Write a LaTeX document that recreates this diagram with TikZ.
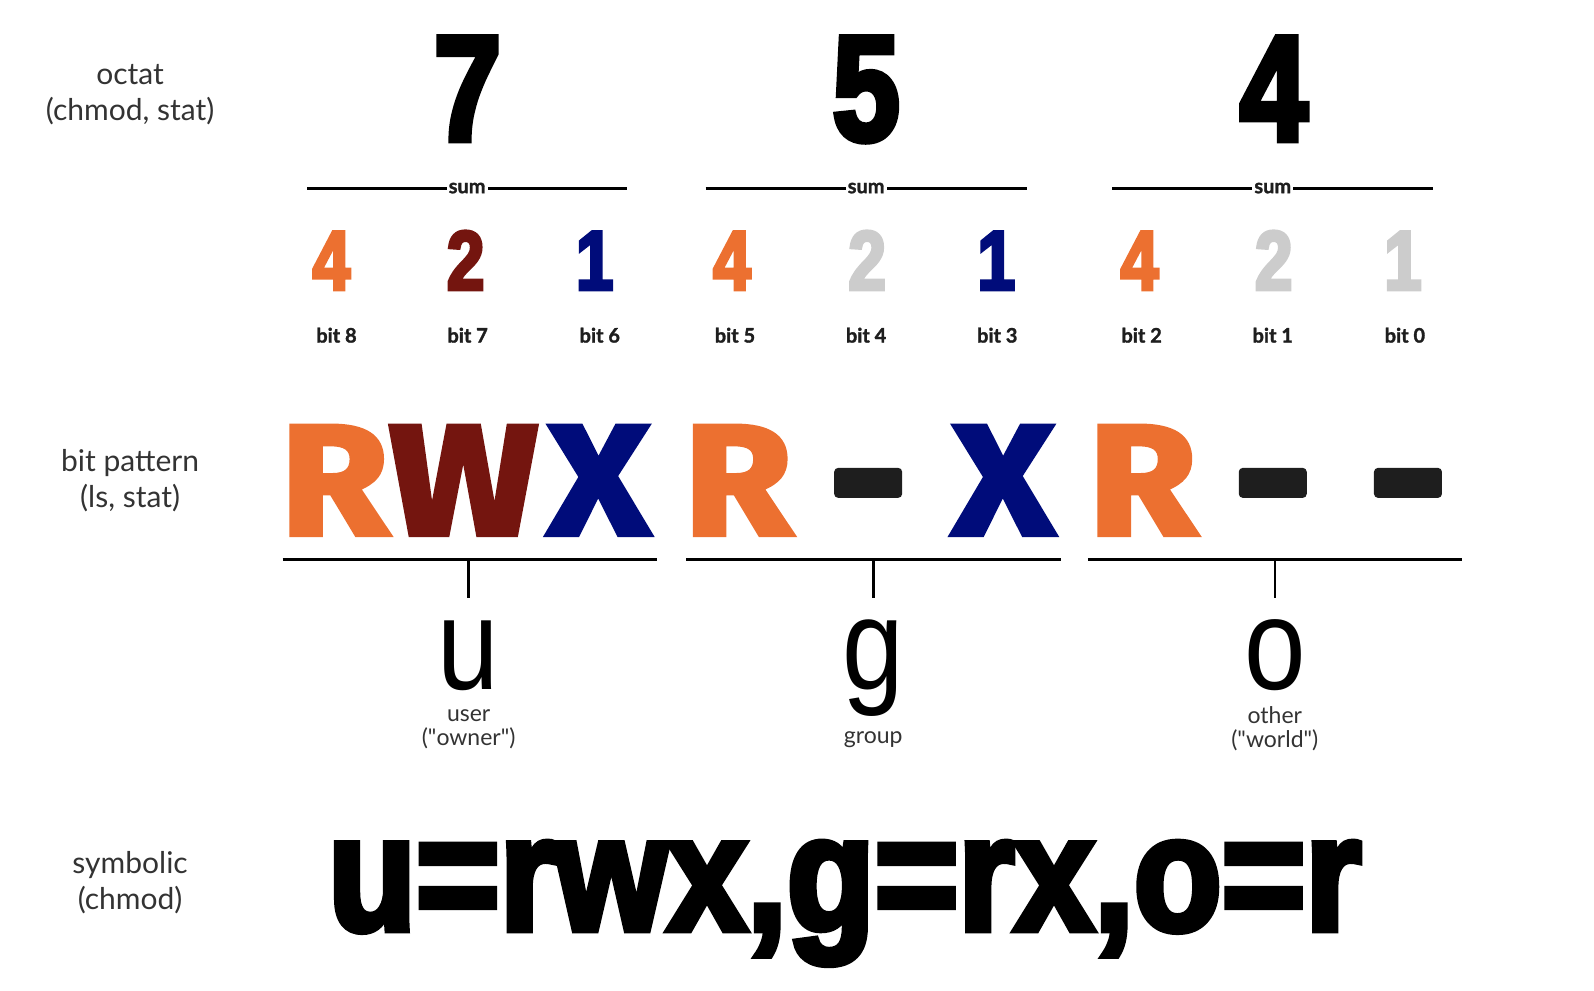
\documentclass[tikz,border=0pt]{standalone}
\usepackage{fontspec}
\setmainfont{Lato}
\newfontfamily\octalfont[FakeStretch=0.8,FakeBold=4]{Liberation Sans Bold}
\newfontfamily\flagfont[FakeStretch=1.12,FakeBold=3]{Fira Sans Bold}
\newfontfamily\whofont[FakeStretch=0.85]{Liberation Sans}
\newfontfamily\symfont[FakeStretch=0.875,FakeBold=4]{Liberation Sans Bold}
\newfontfamily\bitfont[FakeBold=1.5]{Lato Bold}
\definecolor{permorange}{HTML}{EC7030}
\definecolor{permred}{HTML}{74150F}
\definecolor{permblue}{HTML}{000C7A}
\definecolor{permgray}{HTML}{CCCCCC}
\definecolor{permdash}{HTML}{1E1E1E}
\definecolor{labelgray}{HTML}{333333}
\begin{document}
\begin{tikzpicture}[
  x=1.0166pt, y=-1.0166pt,
  rowlabel/.style={align=center, text=labelgray, font=\fontsize{30}{36}\selectfont},
  octal/.style={anchor=base, inner sep=0pt, font=\octalfont\fontsize{150}{150}\selectfont},
  weight/.style={anchor=base, inner sep=0pt, font=\octalfont\fontsize{84}{84}\selectfont},
  bitname/.style={anchor=base, inner sep=0pt, text=permdash, font=\bitfont\fontsize{20}{20}\selectfont},
  flag/.style={anchor=base, inner sep=0pt, font=\flagfont\fontsize{157}{157}\selectfont},
  nobit/.style={fill=permdash, rounded corners=4pt, minimum width=68pt, minimum height=30pt, inner sep=0pt},
  who/.style={anchor=base, inner sep=0pt, text depth=0pt, font=\whofont\fontsize{130}{130}\selectfont},
  whoname/.style={align=center, text=labelgray, inner sep=0pt, font=\fontsize{23}{24}\selectfont},
  rule/.style={line width=3pt},
  tick/.style={line width=2.5pt}
]
\useasboundingbox (0,0) rectangle (1568,974);

\node[rowlabel] (octlabel) at (128,93) {octat\\(chmod, stat)};
\node[rowlabel] (bitlabel) at (128,473) {bit pattern\\(ls, stat)};
\node[rowlabel] (symlabel) at (128,868) {symbolic\\(chmod)};

\foreach \d/\x/\n in {7/460/u, 5/852/g, 4/1253/o}
  \node[octal] (oct\n) at (\x,138) {\d};

\foreach \a/\b/\n in {302/617/u, 694/1010/g, 1094/1410/o} {
  \coordinate (suml\n) at (\a,185);
  \coordinate (sumr\n) at (\b,185);
  \draw[rule] (suml\n) -- node[fill=white, inner xsep=2pt, inner ysep=1pt, text=permdash, font=\bitfont\fontsize{20}{20}\selectfont] {sum} (sumr\n);
}

\foreach \w/\c/\x/\bx/\i in {4/permorange/326/331/8, 2/permred/458/460/7, 1/permblue/585/590/6,
                             4/permorange/720/723/5, 2/permgray/853/852/4, 1/permblue/980/981/3,
                             4/permorange/1121/1123/2, 2/permgray/1253/1252/1, 1/permgray/1380/1382/0} {
  \node[weight, text=\c] (w\i) at (\x,285) {\w};
  \node[bitname] (b\i) at (\bx,337) {bit \i};
}

\foreach \l/\c/\x/\i in {R/permorange/329/8, W/permred/456/7, X/permblue/589/6,
                         R/permorange/726/5, X/permblue/987/3, R/permorange/1124/2}
  \node[flag, text=\c] (f\i) at (\x,526) {\l};
\foreach \x/\i in {854/4, 1252/1, 1385/0}
  \node[nobit] (f\i) at (\x,475) {};

\foreach \a/\b/\m/\n in {278/646/461/u, 675/1044/859/g, 1070/1438/1254/o} {
  \coordinate (bl\n) at (\a,550);
  \coordinate (br\n) at (\b,550);
  \coordinate (bt\n) at (\m,550);
  \coordinate (tk\n) at (\m,588);
  \draw[rule] (bl\n) -- (br\n);
  \draw[tick] (bt\n) -- (tk\n);
  \node[who] (who\n) at (\m,678) {\n};
}
\node[whoname] (useru) at (461,717) {user\\(\textquotedbl owner\textquotedbl)};
\node[whoname] (userg) at (859,728) {group};
\node[whoname] (usero) at (1254,717) {other\\(\textquotedbl world\textquotedbl)};

\node[anchor=base, inner sep=0pt, font=\symfont\fontsize{164}{164}\selectfont] (symbolic) at (831,915) {u=rwx,g=rx,o=r};
\end{tikzpicture}
\end{document}
